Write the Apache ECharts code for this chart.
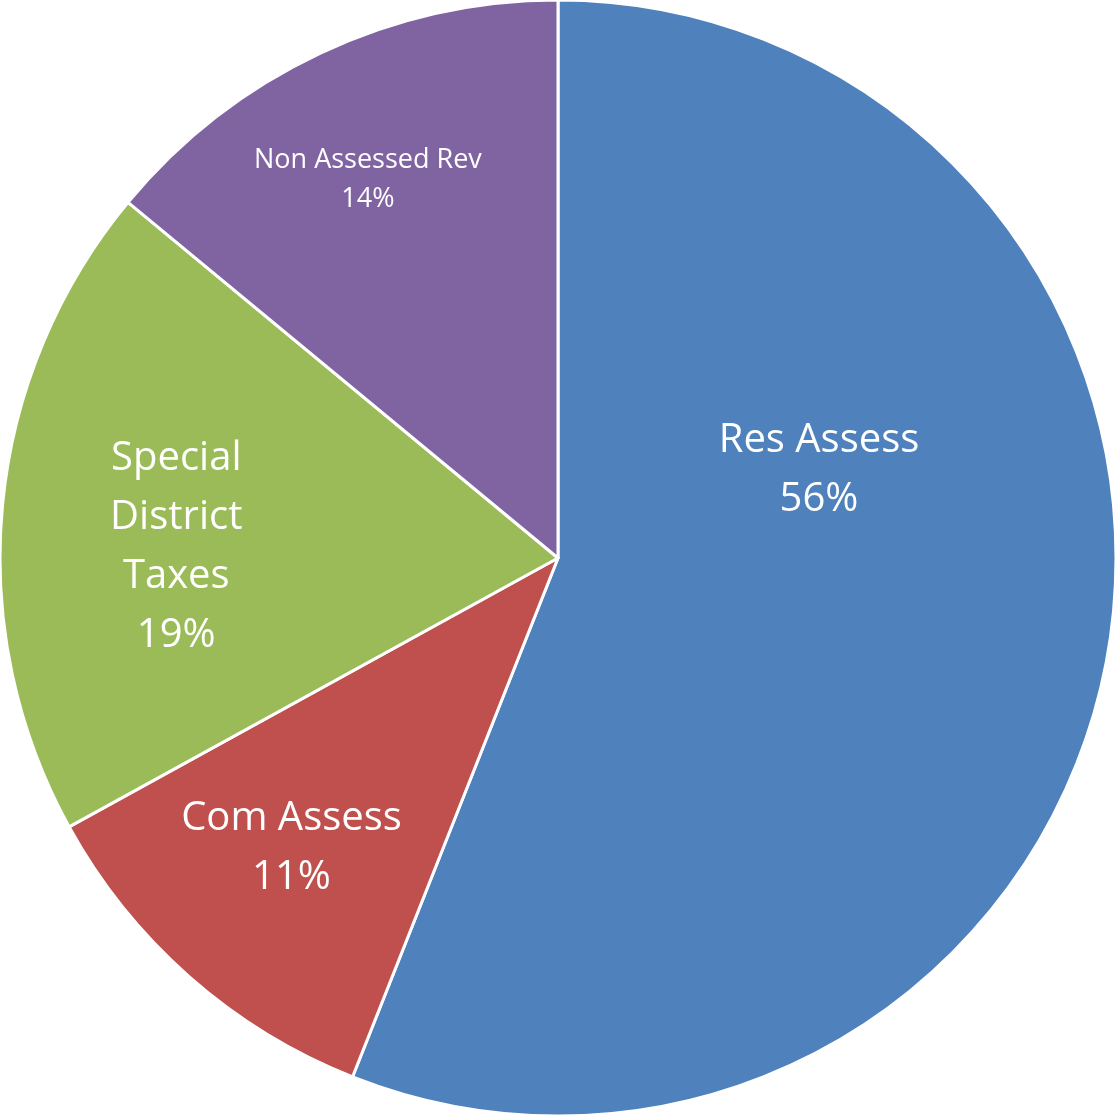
<!DOCTYPE html>
<html>
<head>
<meta charset="utf-8">
<style>
  html, body { margin: 0; padding: 0; background: #ffffff; }
  #chart { width: 1115px; height: 1116px; }
</style>
<script src="https://cdn.jsdelivr.net/npm/echarts@6/dist/echarts.min.js"></script>
</head>
<body>
<div id="chart"></div>
<script>
// Revenue sources, share of total (%)
const categories = ['Res Assess', 'Com Assess', 'Special\nDistrict\nTaxes', 'Non Assessed Rev'];
const shares = [56, 11, 19, 14];
const colors = ['#4F81BD', '#C0504D', '#9BBB59', '#8064A2'];

// Label placement and sizing per slice
const labelOffsets = [[-16, -141], [-80, 79], [-101, 16], [-70, -123]];
const labelSizes = [40, 40, 40, 27];
const labelLineHeights = [59, 59, 59, 39];

const chart = echarts.init(document.getElementById('chart'));
chart.setOption({
  animation: false,
  series: [{
    type: 'pie',
    center: [558, 558],
    radius: [0, 558],
    startAngle: 90,
    clockwise: true,
    avoidLabelOverlap: false,
    itemStyle: { borderColor: '#ffffff', borderWidth: 3 },
    label: {
      show: true,
      position: 'inside',
      color: '#ffffff',
      fontFamily: 'Open Sans',
      formatter: p => p.name + '\n' + p.value + '%'
    },
    labelLine: { show: false },
    emphasis: { disabled: true },
    data: categories.map((name, i) => ({
      name: name,
      value: shares[i],
      itemStyle: { color: colors[i] },
      label: {
        offset: labelOffsets[i],
        fontSize: labelSizes[i],
        lineHeight: labelLineHeights[i]
      }
    }))
  }]
});
</script>
</body>
</html>
